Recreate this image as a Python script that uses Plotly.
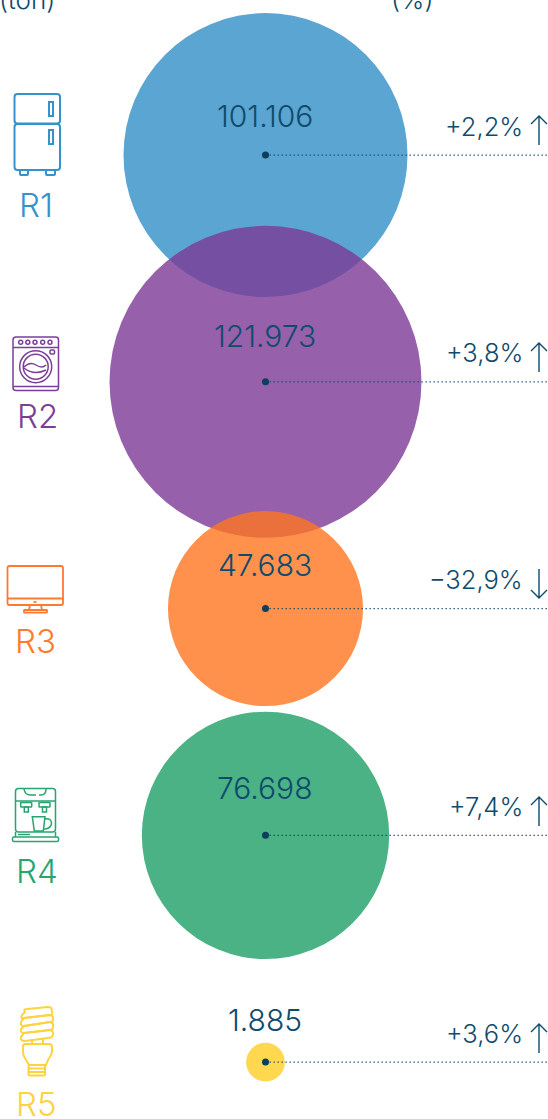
import plotly.graph_objects as go

categories = ["R1", "R2", "R3", "R4", "R5"]
tonnes = [101106, 121973, 47683, 76698, 1885]
tonne_labels = ["101.106", "121.973", "47.683", "76.698", "1.885"]
change_labels = ["+2,2%", "+3,8%", "−32,9%", "+7,4%", "+3,6%"]
change_dirs = ["up", "up", "down", "up", "up"]
header_labels = ["(ton)", "(%)"]
circle_colors = ["rgba(49,142,197,0.8)", "rgba(124,58,149,0.8)", "rgba(255,118,33,0.8)",
                 "rgba(29,159,101,0.8)", "rgba(255,206,35,0.8)"]
icon_colors = ["#3593CC", "#7B3F98", "#FF7A2F", "#27A56F", "#FFD33D"]

INK = "#0F4B6C"
FONT = "Inter"
W, H = 548, 1119
CX = 265.5
value_yshift = [39, 46, 44, 47, 42]
cat_x = [35.5, 37, 35.5, 36.5, 36.5]
cat_yshift = [-50, -34, -32, -36, -42]

fig = go.Figure()
fig.add_trace(go.Scatter(x=[CX] * 5, y=categories, mode="markers", hoverinfo="skip",
                         marker=dict(size=tonnes, sizemode="area", sizeref=2.507, opacity=1,
                                     color=circle_colors, line=dict(width=0))))
for c in categories:
    fig.add_trace(go.Scatter(x=[CX, W], y=[c, c], mode="lines", hoverinfo="skip",
                             line=dict(color=INK, width=1.3, dash="1.3px 2.7px")))
fig.add_trace(go.Scatter(x=[CX] * 5, y=categories, mode="markers", hoverinfo="skip",
                         marker=dict(size=7, color="#0B3F5C")))
fig.add_trace(go.Scatter(x=[None], y=[None], yaxis="y2", hoverinfo="skip"))


def rect(x0, y0, x1, y1, r=0):
    if r == 0:
        return f"M{x0},{y0}L{x1},{y0}L{x1},{y1}L{x0},{y1}Z"
    return (f"M{x0+r},{y0}L{x1-r},{y0}Q{x1},{y0} {x1},{y0+r}L{x1},{y1-r}Q{x1},{y1} {x1-r},{y1}"
            f"L{x0+r},{y1}Q{x0},{y1} {x0},{y1-r}L{x0},{y0+r}Q{x0},{y0} {x0+r},{y0}Z")


def circ(cx, cy, r):
    return (f"M{cx-r},{cy}C{cx-r},{cy-r*.55} {cx-r*.55},{cy-r} {cx},{cy-r}"
            f"C{cx+r*.55},{cy-r} {cx+r},{cy-r*.55} {cx+r},{cy}"
            f"C{cx+r},{cy+r*.55} {cx+r*.55},{cy+r} {cx},{cy+r}"
            f"C{cx-r*.55},{cy+r} {cx-r},{cy+r*.55} {cx-r},{cy}Z")


icons = [
    (2.0, [rect(14.5, 94, 60, 123.5, 3), rect(14.5, 124, 60, 170, 3), rect(49, 102, 53, 116),
           rect(49, 130, 53, 144), rect(20, 170, 28, 175, 1), rect(46, 170, 55, 175, 1)]),
    (1.5, [rect(13, 337, 58.5, 390.5, 3), "M13,347.5L58.5,347.5", "M13,386.5L58.5,386.5",
           circ(20.7, 342.3, 2), circ(27.8, 342.3, 2), circ(35, 342.3, 2), circ(42.7, 342.3, 2),
           circ(50, 342.3, 2), rect(50, 350, 54.5, 354, 1), circ(35.7, 366.7, 16), circ(35.7, 366.7, 12.5),
           "M24,367Q30,361 36,365Q42,369 46,365", "M24,368Q34,376 46,370"]),
    (1.8, [rect(7.5, 566, 63, 605, 2), "M7.5,598.5L63,598.5", "M30,605L29,610M41,605L42,610",
           rect(24, 610, 47, 612.7, 0.5), "M33.5,602L36.5,602"]),
    (1.5, [rect(15.5, 788.5, 55.5, 832, 3), rect(12.5, 837, 58.5, 841.5, 1.5), "M15.5,832L15.5,837M55.5,832L55.5,837",
           "M24,789Q25,795 30,795L36,795M39,795L41,795Q46,795 46,789", "M15.5,801L55.5,801",
           rect(20.7, 802.5, 31.7, 807, 0.5), rect(39, 802.5, 50, 807, 0.5), rect(24.3, 807, 28.3, 812),
           rect(42.5, 807, 46.5, 812), "M32.3,816.7L34.3,831L43.3,831L45,816.7Z",
           "M45,819Q52,818 51.5,824Q50,829 44,829", "M18,834.5L30,834.5"]),
    (2.0, ["M25,1012Q23,1009 27,1009L48,1007Q52,1007 51.5,1010L52,1012Q53,1015 50,1015L24,1018Q20,1019 22,1015Z",
           "M24,1018L50,1015Q54,1016 53,1020Q53,1022 50,1022L24,1026Q20,1026 21,1022Z",
           "M24,1026L50,1022Q54,1023 53,1027Q53,1030 50,1030L24,1033Q20,1033 21,1029Z",
           "M24,1033L50,1030Q54,1031 53,1035Q52,1038 48,1038L25,1041Q20,1041 21,1037Z",
           "M32,1040L32,1044M43,1038L43,1044",
           "M25,1044L49,1044Q52,1044 52,1047L52,1052Q51,1056 48,1060L46,1065L29,1065L26,1060Q23,1056 23,1052L23,1047Q23,1044 25,1044Z",
           rect(28.5, 1065, 45, 1075.5, 1.5), "M28.5,1068.5L45,1068.5M28.5,1072L45,1072"]),
]
shapes = []
for color, (lw, parts) in zip(icon_colors, icons):
    for p in parts:
        shapes.append(dict(type="path", path=p, xref="x", yref="y2", line=dict(color=color, width=lw)))

arrow_y = [(115, 145), (342, 372), (569, 599), (796, 826), (1023, 1053)]
for (a, b), d in zip(arrow_y, change_dirs):
    xc = 539
    if d == "up":
        p = f"M{xc},{b}L{xc},{a+1}M{xc-8},{a+9}L{xc},{a+1}L{xc+8},{a+9}"
    else:
        p = f"M{xc},{a}L{xc},{b-1}M{xc-8},{b-9}L{xc},{b-1}L{xc+8},{b-9}"
    shapes.append(dict(type="path", path=p, xref="x", yref="y2", line=dict(color=INK, width=1.4)))

annotations = []
for c, t, ys, col, cx, cy, ch in zip(categories, tonne_labels, value_yshift, icon_colors,
                                     cat_x, cat_yshift, change_labels):
    annotations.append(dict(x=CX - 0.5, y=c, text=t, yshift=ys, showarrow=False,
                            font=dict(family=FONT, size=30, color=INK, weight=300)))
    annotations.append(dict(x=cx, y=c, text=c, yshift=cy, showarrow=False,
                            font=dict(family=FONT, size=33, color=col, weight=300)))
    annotations.append(dict(x=524.5, y=c, text=ch, yshift=29, xanchor="right", showarrow=False,
                            font=dict(family=FONT, size=25.5, color=INK, weight=300)))
annotations.append(dict(x=27, y=1, yref="paper", yshift=1, text=header_labels[0], showarrow=False,
                        yanchor="middle", font=dict(family=FONT, size=26, color=INK, weight=300)))
annotations.append(dict(x=412, y=1, yref="paper", yshift=1, text=header_labels[1], showarrow=False,
                        yanchor="middle", font=dict(family=FONT, size=26, color=INK, weight=300)))

fig.update_layout(
    width=W, height=H, margin=dict(l=0, r=0, t=0, b=0), showlegend=False,
    paper_bgcolor="white", plot_bgcolor="white",
    xaxis=dict(range=[0, W], visible=False, fixedrange=True),
    yaxis=dict(type="category", categoryorder="array", categoryarray=categories,
               range=[4.251, -0.684], visible=False, fixedrange=True),
    yaxis2=dict(range=[H, 0], overlaying="y", visible=False, fixedrange=True),
    shapes=shapes, annotations=annotations,
)
fig.write_html("out.html", config=dict(displayModeBar=False, responsive=False),
               post_script="document.body.style.margin='0';document.body.style.overflow='hidden';")
